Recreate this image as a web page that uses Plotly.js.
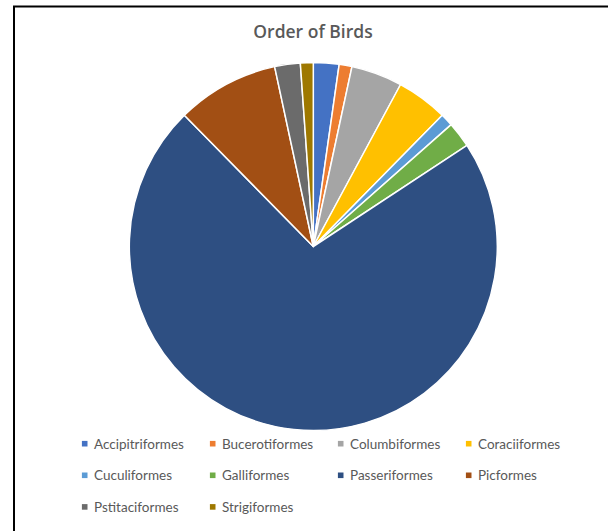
<!DOCTYPE html>
<html>
<head>
<meta charset="utf-8">
<script src="https://cdn.plot.ly/plotly-3.0.1.min.js"></script>
<style>
  html, body { margin: 0; padding: 0; background: #ffffff; }
  #chart { width: 608px; height: 531px; }
</style>
</head>
<body>
<div id="chart"></div>
<script>
// ---- data ----
const labels = ["Accipitriformes", "Bucerotiformes", "Columbiformes", "Coraciiformes",
                "Cuculiformes", "Galliformes", "Passeriformes", "Picformes",
                "Pstitaciformes", "Strigiformes"];
const counts = [2, 1, 4, 4, 1, 2, 64, 8, 2, 1];
const colors = ["#4472C4", "#ED7D31", "#A5A5A5", "#FFC000",
                "#5B9BD5", "#70AD47", "#2E4F82", "#A24F14",
                "#6B6B6B", "#9E7800"];
const titleText = "Order of Birds";

// ---- layout helpers ----
const W = 608, H = 531;
const px = x => x / W;
const py = y => 1 - y / H;

const cx = 313.3, cy = 246.5, R = 184;

const trace = {
  type: "pie",
  labels: labels,
  values: counts,
  sort: false,
  direction: "clockwise",
  rotation: 0,
  marker: { colors: colors, line: { color: "#ffffff", width: 1.5 } },
  textinfo: "none",
  hoverinfo: "label+value+percent",
  showlegend: false,
  domain: { x: [px(cx - R), px(cx + R)], y: [py(cy + R), py(cy - R)] }
};

// custom legend built from labels/colors
const shapes = [
  // chart frame (left & top edges visible)
  { type: "line", xref: "paper", yref: "paper", x0: px(14), x1: px(14), y0: py(6.5), y1: py(531),
    line: { color: "#000000", width: 2 } },
  { type: "line", xref: "paper", yref: "paper", x0: px(13), x1: px(608), y0: py(6.5), y1: py(6.5),
    line: { color: "#000000", width: 2 } }
];
const annotations = [];
const col0 = 84.7, colStep = 128, row0 = 443.7, rowStep = 31.6, sq = 5.6;
labels.forEach((lab, i) => {
  const c = i % 4, r = Math.floor(i / 4);
  const mx = col0 + c * colStep, my = row0 + r * rowStep;
  shapes.push({
    type: "rect", xref: "paper", yref: "paper",
    x0: px(mx - sq / 2), x1: px(mx + sq / 2), y0: py(my + sq / 2), y1: py(my - sq / 2),
    fillcolor: colors[i], line: { width: 0 }
  });
  annotations.push({
    xref: "paper", yref: "paper", x: px(mx + 7), y: py(my),
    xanchor: "left", yanchor: "middle", showarrow: false,
    text: lab, font: { family: "Lato, 'Open Sans', sans-serif", size: 13.5, color: "#595959" }
  });
});

const layout = {
  width: W, height: H,
  margin: { l: 0, r: 0, t: 0, b: 0 },
  paper_bgcolor: "#ffffff",
  showlegend: false,
  title: {
    text: titleText,
    x: px(313), xanchor: "center",
    y: py(31.5), yanchor: "middle",
    font: { family: "'Open Sans', sans-serif", size: 17.5, weight: 600, color: "#595959" }
  },
  shapes: shapes,
  annotations: annotations
};

Plotly.newPlot("chart", [trace], layout, { displayModeBar: false, staticPlot: true });
</script>
</body>
</html>
